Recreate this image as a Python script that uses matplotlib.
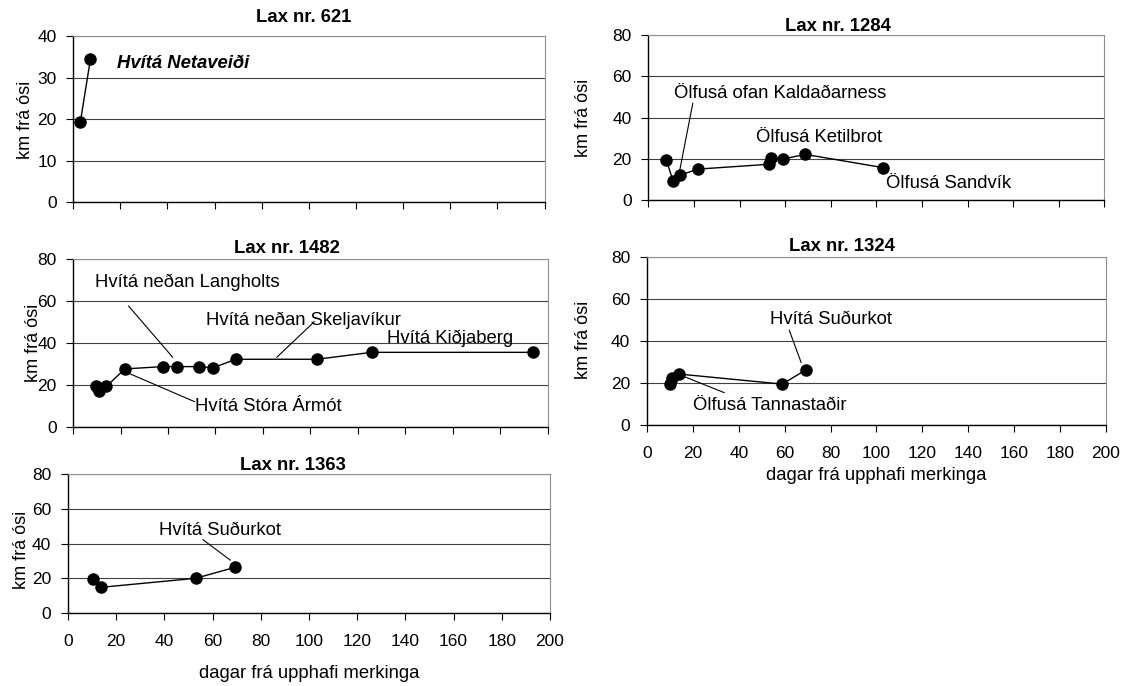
import matplotlib.pyplot as plt

plt.rcParams['font.family'] = ['Liberation Sans', 'DejaVu Sans']

W, H = 1126, 686

# data: days since tagging, km from river mouth
days_621 = [3, 7.3]
km_621 = [19.2, 34.4]

days_1284 = [7.9, 10.8, 13.9, 21.9, 52.7, 54, 58.9, 68.9, 102.9]
km_1284 = [19.4, 9.2, 12.1, 15.0, 17.3, 20.2, 19.9, 22.1, 15.7]

days_1482 = [9.5, 11, 14, 21.8, 37.8, 43.8, 52.9, 59, 68.7, 102.7, 125.9, 193.8]
km_1482 = [19.5, 17.5, 19.5, 27.8, 28.9, 28.9, 28.9, 28.4, 32.4, 32.4, 35.7, 35.7]

days_1324 = [10.1, 10.9, 14, 59, 69.1]
km_1324 = [19.3, 22.1, 24.2, 19.4, 26.1]

days_1363 = [10.4, 13.6, 53, 69.3]
km_1363 = [19.5, 14.9, 20.1, 26.4]

xticks = list(range(0, 201, 20))

TICK_FS = 12.5
TXT_FS = 13.3


def px_axes(left, right, top, bottom):
    return fig.add_axes([left / W, 1 - bottom / H, (right - left) / W, (bottom - top) / H])


def style(ax, ymax, ystep, show_x):
    ax.set_xlim(0, 200)
    ax.set_ylim(0, ymax)
    ax.set_xticks(xticks)
    ax.set_yticks(range(0, ymax + 1, ystep))
    ax.yaxis.grid(True, color='#404040', lw=0.8)
    ax.set_axisbelow(True)
    for s in ['top', 'right']:
        ax.spines[s].set_color('#909090')
        ax.spines[s].set_linewidth(0.8)
    for s in ['left', 'bottom']:
        ax.spines[s].set_color('black')
        ax.spines[s].set_linewidth(1.0)
    ax.tick_params(direction='out', length=5, width=0.8, labelsize=TICK_FS)
    ax.tick_params(axis='y', pad=7)
    ax.tick_params(axis='x', pad=10)
    if not show_x:
        ax.set_xticklabels([])


def draw(ax, x, y):
    ax.plot(x, y, color='black', lw=1.0, marker='o', ms=8, clip_on=False, zorder=3)


def leader(ax, start, end):
    ax.annotate('', xy=end, xytext=start,
                arrowprops=dict(arrowstyle='-', color='black', lw=0.8, shrinkA=0, shrinkB=0))


def label(ax, x, y, s, **kw):
    ax.text(x, y, s, ha='left', va='center', fontsize=TXT_FS, **kw)


def ftext(x, y, s, **kw):
    fig.text(x / W, 1 - y / H, s, ha='center', va='center', **kw)


fig = plt.figure(figsize=(W / 100, H / 100), dpi=100)

# Lax nr. 621
ax1 = px_axes(73.2, 544.6, 36, 202.3)
style(ax1, 40, 10, False)
draw(ax1, days_621, km_621)
label(ax1, 18.5, 33.4, 'Hvítá Netaveiði', fontweight='bold', style='italic')
ftext(303.6, 17, 'Lax nr. 621', fontsize=TXT_FS, fontweight='bold')
ftext(25, 120, 'km frá ósi', fontsize=13, rotation=90)

# Lax nr. 1284
ax2 = px_axes(648.4, 1104.3, 35, 200)
style(ax2, 80, 20, False)
draw(ax2, days_1284, km_1284)
label(ax2, 11.1, 51.4, 'Ölfusá ofan Kaldaðarness')
label(ax2, 47.2, 30.5, 'Ölfusá Ketilbrot')
label(ax2, 104.1, 8.2, 'Ölfusá Sandvík')
leader(ax2, (19.5, 47), (13.5, 13))
ftext(838, 26.5, 'Lax nr. 1284', fontsize=TXT_FS, fontweight='bold')
ftext(583.5, 118, 'km frá ósi', fontsize=13, rotation=90)

# Lax nr. 1482
ax3 = px_axes(73.2, 547.5, 259.3, 427.3)
style(ax3, 80, 20, False)
draw(ax3, days_1482, km_1482)
label(ax3, 9.4, 69.2, 'Hvítá neðan Langholts')
label(ax3, 55.9, 51.1, 'Hvítá neðan Skeljavíkur')
label(ax3, 132.2, 42.5, 'Hvítá Kiðjaberg')
label(ax3, 51.4, 10.1, 'Hvítá Stóra Ármót')
leader(ax3, (23.3, 57.8), (42, 33.3))
leader(ax3, (101.7, 50.3), (85.8, 33.3))
leader(ax3, (21.8, 26.5), (51.2, 12.2))
ftext(287.1, 248.3, 'Lax nr. 1482', fontsize=TXT_FS, fontweight='bold')
ftext(34, 343, 'km frá ósi', fontsize=13, rotation=90)

# Lax nr. 1324
ax4 = px_axes(647, 1105.8, 257.3, 424.7)
style(ax4, 80, 20, True)
draw(ax4, days_1324, km_1324)
label(ax4, 53.7, 50.5, 'Hvítá Suðurkot')
label(ax4, 20.1, 9.4, 'Ölfusá Tannastaðir')
leader(ax4, (62, 45.2), (67.2, 29.7))
leader(ax4, (16.4, 22.9), (33.7, 15.3))
ftext(842.3, 246.7, 'Lax nr. 1324', fontsize=TXT_FS, fontweight='bold')
ftext(583.5, 340, 'km frá ósi', fontsize=13, rotation=90)
ftext(876, 475, 'dagar frá upphafi merkinga', fontsize=TXT_FS)

# Lax nr. 1363
ax5 = px_axes(67.9, 550, 474, 613.3)
style(ax5, 80, 20, True)
draw(ax5, days_1363, km_1363)
label(ax5, 37.7, 47.8, 'Hvítá Suðurkot')
leader(ax5, (56, 42.3), (67.4, 30.5))
ftext(292.9, 465.7, 'Lax nr. 1363', fontsize=TXT_FS, fontweight='bold')
ftext(21.4, 550, 'km frá ósi', fontsize=13, rotation=90)
ftext(309, 674, 'dagar frá upphafi merkinga', fontsize=TXT_FS)

fig.savefig('out.png', dpi=100)
